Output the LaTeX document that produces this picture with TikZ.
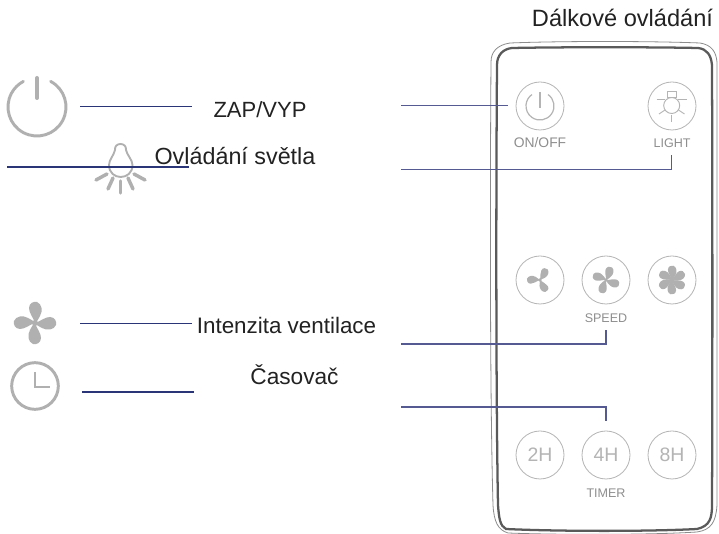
\documentclass[tikz,border=0pt]{standalone}
\usepackage{fontspec}
\setmainfont{Liberation Sans}
\definecolor{navy}{HTML}{2A3578}
\definecolor{linkc}{HTML}{565A92}
\definecolor{icong}{HTML}{B0B0B0}
\definecolor{btn}{HTML}{B4B4B4}
\definecolor{bodyd}{HTML}{5A5A5A}
\definecolor{bodyl}{HTML}{8C8C8C}
\definecolor{lab}{HTML}{8E8E8E}
\definecolor{txtc}{HTML}{222222}
\newcommand{\myblade}{\fill[icong] (0,0) .. controls (-2,-6) and (-6,-10) .. (-6,-15) .. controls (-6,-20) and (-1,-22) .. (2,-21) .. controls (7,-19) and (8,-12) .. (5,-7) .. controls (4,-4) and (2,-2) .. (0,0) -- cycle;}
\newcommand{\myfan}[5]{% x,y,count,scale,start
  \begin{scope}[shift={(#1,#2)},scale=#4]
    \foreach \k in {1,...,#3}{
      \begin{scope}[rotate=#5+\k*360/#3]\myblade\end{scope}
    }
    \fill[icong] (0,0) circle[radius=3];
  \end{scope}}
\tikzset{
  x=0.75pt,y=-0.75pt,
  txt/.style={text=txtc,inner sep=0pt,anchor=base},
  keyb/.style={circle,draw=btn,line width=0.6pt,minimum size=36pt,inner sep=0pt,text=btn,font=\fontsize{14.6}{16}\selectfont},
  tag/.style={text=lab,inner sep=0pt,font=\fontsize{9.4}{11}\selectfont},
  navyl/.style={draw=navy,line width=1.1pt},
  linkl/.style={draw=linkc,line width=1.1pt},
  icon/.style={draw=icong,line width=2.6pt,line cap=round},
  thin icon/.style={draw=btn,line width=0.7pt}
}
\begin{document}
\begin{tikzpicture}
\useasboundingbox (0,0) rectangle (719,534);
\fill[white] (0,0) rectangle (719,534);
% remote body
\draw[bodyl,line width=0.6pt] (510,43) .. controls (560,41) and (650,41) .. (700,43) .. controls (712,45) and (716,52) .. (717,62) .. controls (717,200) and (717,400) .. (717,505) .. controls (716,522) and (711,530) .. (697,532) .. controls (650,535) and (560,535) .. (508,533) .. controls (498,530) and (494,522) .. (493,505) .. controls (490,400) and (490,200) .. (491,62) .. controls (491,52) and (497,45) .. (510,43) -- cycle;
\draw[bodyd,line width=1.7pt] (512,48) .. controls (560,47) and (650,47) .. (698,48) .. controls (707,49) and (711,55) .. (712,65) .. controls (712.5,200) and (712.5,400) .. (712,505) .. controls (712,518) and (710,526) .. (697,529) .. controls (650,531.5) and (560,531.5) .. (506,529) .. controls (500,526) and (499,518) .. (498,505) .. controls (496,400) and (496,200) .. (497,65) .. controls (497,55) and (503,49) .. (512,48) -- cycle;
% buttons
\node[keyb] (kpower) at (540,106) {};
\node[keyb] (klight) at (672,106) {};
\node[keyb] (ks1) at (540,280) {};
\node[keyb] (ks2) at (606,280) {};
\node[keyb] (ks3) at (672,280) {};
\node[keyb] (k2) at (540,455) {2H};
\node[keyb] (k4) at (606,455) {4H};
\node[keyb] (k8) at (672,455) {8H};
\node[tag,font=\fontsize{10.4}{12}\selectfont] (tonoff) at (540,143) {ON/OFF};
\node[tag] (tlight) at (672,143) {LIGHT};
\node[tag] (tspeed) at (606,318) {SPEED};
\node[tag] (ttimer) at (606,493) {TIMER};
% button icons
\draw[btn,line width=0.9pt] (540,106) ++(-55:14) arc[start angle=-55,end angle=235,radius=14];
\draw[btn,line width=1.3pt] (540,92) -- (540,108);
\draw[thin icon] (671.7,105.5) circle[radius=8];
\draw[thin icon] (667,91) rectangle (676,97);
\draw[thin icon] (656.7,99.3) -- (665,99.3);
\draw[thin icon] (678,99.3) -- (687,99.3);
\draw[thin icon] (659,114) -- (665,110);
\draw[thin icon] (684.5,114) -- (678.5,110);
\draw[thin icon] (671.7,115) -- (671.7,121.7);
\myfan{540}{280}{3}{0.62}{-30}
\myfan{606}{280}{4}{0.66}{-20}
\myfan{672}{280}{6}{0.68}{0}
% left icons
\draw[draw=icong,line width=2.2pt,line cap=round] (37,107) ++(-62:29) arc[start angle=-62,end angle=242,radius=29];
\draw[draw=icong,line width=3pt,line cap=round] (37,78) -- (37,98);
\draw[draw=icong,line width=1.4pt] (115,150) .. controls (114,142) and (127,142) .. (126,150) .. controls (127,155) and (132.5,160) .. (132.5,165) .. controls (132.5,181) and (109,181) .. (109,165) .. controls (109,160) and (114,155) .. (115,150) -- cycle;
\draw[icon] (96,180) -- (107,174);
\draw[icon] (108,189) -- (113,178);
\draw[icon] (120.7,193) -- (120.7,181);
\draw[icon] (133,189) -- (128,178);
\draw[icon] (145,180) -- (134,174);
\myfan{35}{323}{4}{1}{0}
\node[circle,draw=icong,line width=2.2pt,minimum size=35pt,inner sep=0pt] (clock) at (35,386) {};
\draw[draw=icong,line width=2.2pt] (35,372) -- (35,387) -- (50,387);
% left labels
\node[txt,font=\fontsize{16.5}{18}\selectfont] (zap) at (260,117.3) {ZAP/VYP};
\node[txt,font=\fontsize{17.5}{19}\selectfont] (ovl) at (235,165) {Ovládání světla};
\node[txt,font=\fontsize{16.8}{19}\selectfont] (int) at (286.5,334) {Intenzita ventilace};
\node[txt,font=\fontsize{17}{19}\selectfont] (cas) at (294.5,385) {Časovač};
\node[txt,font=\fontsize{17.7}{20}\selectfont] (dal) at (622.5,26.7) {Dálkové ovládání};
% connector ends
\coordinate (a1) at (80,106.5); \coordinate (a2) at (192,106.5);
\coordinate (b1) at (7,167); \coordinate (b2) at (189,167);
\coordinate (c1) at (80,323.5); \coordinate (c2) at (192,323.5);
\coordinate (d1) at (82,392); \coordinate (d2) at (194,392);
\coordinate (e1) at (401,105.5); \coordinate (e2) at (508,105.5);
\coordinate (f1) at (401,169.5); \coordinate (f2) at (671.5,155.5);
\coordinate (g1) at (401,344); \coordinate (g2) at (606,330);
\coordinate (h1) at (401,407); \coordinate (h2) at (606,421);
\draw[navyl] (a1) -- (a2);
\draw[navyl,line width=1.3pt] (b1) -- (b2);
\draw[navyl] (c1) -- (c2);
\draw[navyl] (d1) -- (d2);
\draw[linkl] (e1) -- (e2);
\draw[linkl] (f1) -| (f2);
\draw[linkl] (g1) -| (g2);
\draw[linkl] (h1) -| (h2);
\end{tikzpicture}
\end{document}
